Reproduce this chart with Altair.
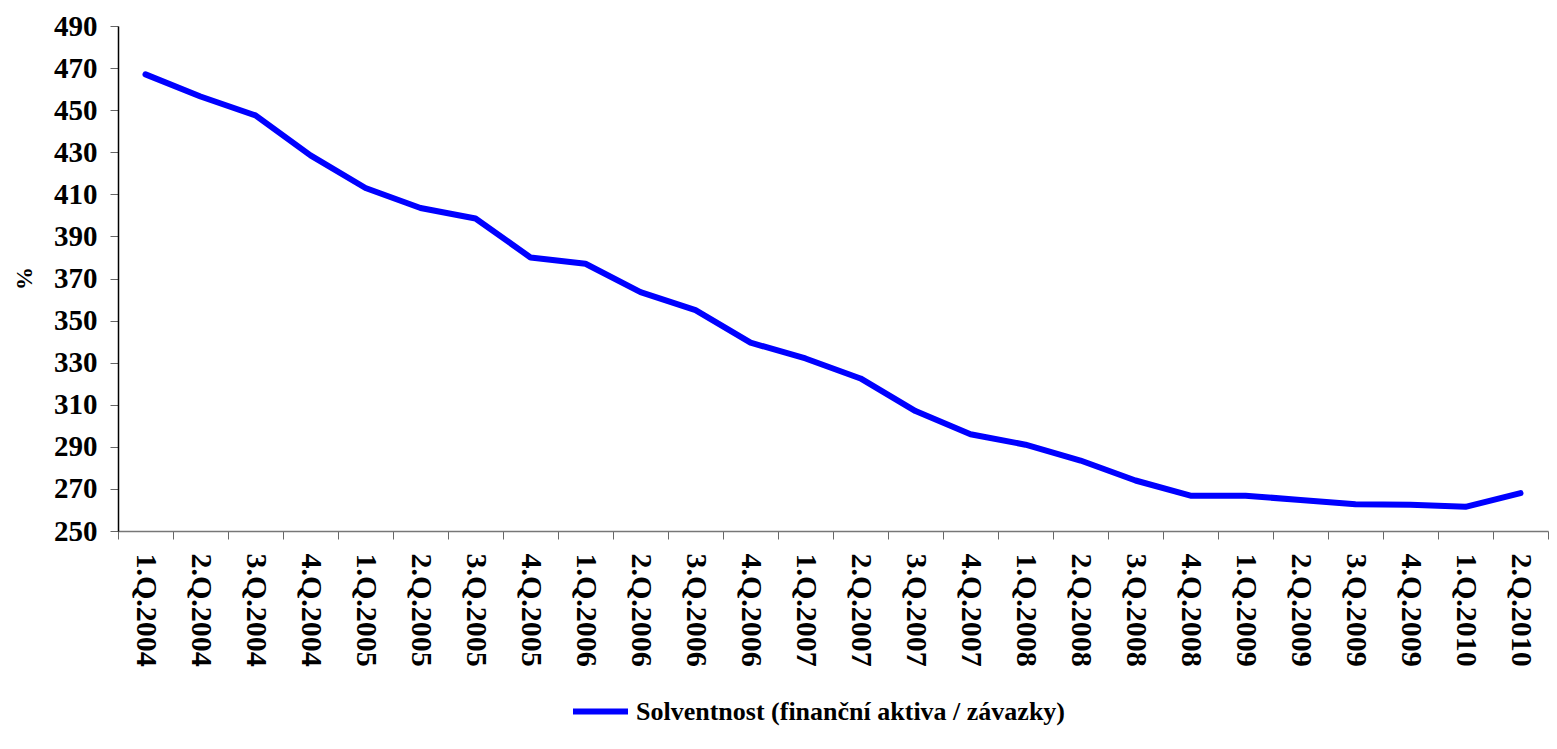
import altair as alt
import pandas as pd

quarters = [
    "1.Q.2004", "2.Q.2004", "3.Q.2004", "4.Q.2004",
    "1.Q.2005", "2.Q.2005", "3.Q.2005", "4.Q.2005",
    "1.Q.2006", "2.Q.2006", "3.Q.2006", "4.Q.2006",
    "1.Q.2007", "2.Q.2007", "3.Q.2007", "4.Q.2007",
    "1.Q.2008", "2.Q.2008", "3.Q.2008", "4.Q.2008",
    "1.Q.2009", "2.Q.2009", "3.Q.2009", "4.Q.2009",
    "1.Q.2010", "2.Q.2010",
]
solvency = [
    467.0, 456.5, 447.5, 428.5,
    413.0, 403.5, 398.5, 380.0,
    377.0, 363.5, 355.0, 339.5,
    332.0, 322.5, 307.0, 296.0,
    291.0, 283.5, 274.0, 266.8,
    266.8, 264.7, 262.7, 262.5,
    261.5, 268.0,
]
series_name = "Solventnost (finanční aktiva / závazky)"
y_ticks = list(range(250, 491, 20))

df = pd.DataFrame({"q": quarters, "v": solvency, "s": [series_name] * len(quarters)})

FONT = "Liberation Serif"

chart = alt.Chart(df).mark_line(strokeWidth=6, strokeJoin="round", strokeCap="round").encode(
    x=alt.X("q:N", sort=quarters,
            scale=alt.Scale(paddingInner=0, paddingOuter=0, type="band"),
            axis=alt.Axis(title=None, labelAngle=90, labelAlign="left", labelBaseline="middle",
                          labelFont=FONT, labelFontWeight="bold", labelFontSize=30, labelColor="#000",
                          labelPadding=14, tickSize=8, tickBand="extent", tickColor="#666",
                          domainColor="#777", domainWidth=1.5, grid=False)),
    y=alt.Y("v:Q", scale=alt.Scale(domain=[250, 490], nice=False, zero=False),
            axis=alt.Axis(title="%", values=y_ticks, labelFont=FONT, labelFontWeight="bold",
                          labelFontSize=29, labelColor="#000", labelPadding=13, tickSize=8,
                          tickColor="#666", domainColor="#000", domainWidth=1.5, grid=False,
                          titleFont=FONT, titleFontWeight="bold", titleFontSize=23, titleColor="#000",
                          titleAngle=-90, titleX=-94, titleY=252, titleAlign="center",
                          titleBaseline="middle")),
    color=alt.Color("s:N", scale=alt.Scale(domain=[series_name], range=["#0000FF"]),
                    legend=alt.Legend(title=None, orient="none", legendX=452, legendY=655,
                                      symbolType="stroke", symbolSize=3025, symbolStrokeWidth=6,
                                      labelFont=FONT, labelFontWeight="bold", labelFontSize=26,
                                      labelColor="#000", labelOffset=5, padding=0, labelLimit=800)),
).properties(
    width=1430, height=505,
    autosize=alt.AutoSizeParams(type="none"),
    padding={"left": 110, "top": 18, "right": 1, "bottom": 202},
).configure_view(stroke=None)

chart.save("out.html", embed_options={"renderer": "svg", "actions": False})
